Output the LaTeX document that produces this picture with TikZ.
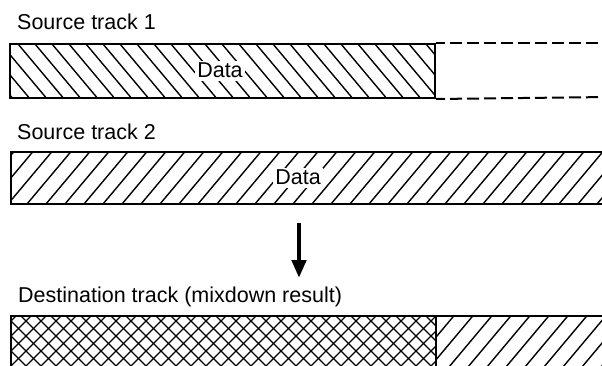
\documentclass[tikz,border=0pt]{standalone}
\usepackage{fontspec}
\setmainfont{Liberation Sans}
\usetikzlibrary{arrows.meta}
\begin{document}
\begin{tikzpicture}[x=1pt,y=-1pt,
  lbl/.style={font=\fontsize{21.5}{24}\selectfont, inner sep=0pt, anchor=base west},
  datalbl/.style={font=\fontsize{21.5}{24}\selectfont, fill=white, inner sep=2.5pt, anchor=base},
  hl/.style={line width=1.4pt},
  track/.style={draw, line width=2pt, anchor=north west, inner sep=0pt},
  hatchback/.style={path picture={\foreach \k in {0,...,40}{\draw[hl] ([xshift=\k*17pt-60pt]path picture bounding box.north west) -- ++(60pt,-71.5pt);}}},
  hatchfwd/.style={path picture={\foreach \k in {0,...,40}{\draw[hl] ([xshift=\k*19pt-60pt]path picture bounding box.south west) -- ++(60pt,71.5pt);}}},
  hatchcross/.style={path picture={\foreach \k in {0,...,50}{\draw[hl] ([xshift=\k*15pt-80pt]path picture bounding box.south west) -- ++(80pt,80pt); \draw[hl] ([xshift=\k*15pt-80pt]path picture bounding box.north west) -- ++(80pt,-80pt);}}},
  dashline/.style={line width=2pt, dash pattern=on 12pt off 5pt, dash phase=3pt},
  bigarrow/.style={line width=4.5pt, -{Triangle[width=14pt,length=18pt]}}
]
\useasboundingbox (0,0) rectangle (602,366);
\clip (0,0) rectangle (602,366);

% Source track 1
\node[lbl] (l1) at (17,30) {Source track 1};
\node[track, hatchback, minimum width=425pt, minimum height=54pt] (t1) at (9,43) {};
\node[datalbl] (d1) at (220,78) {Data};
\coordinate (e1t) at (610,43);
\coordinate (e1b) at (610,97);
\draw[dashline] (t1.north east) -- (e1t);
\draw[dashline] (t1.south east) -- (e1b);

% Source track 2
\node[lbl] (l2) at (17,140) {Source track 2};
\node[track, hatchfwd, minimum width=620pt, minimum height=52pt] (t2) at (10,151) {};
\node[datalbl] (d2) at (298,185) {Data};

% Arrow
\coordinate (a1) at (299,223);
\coordinate (a2) at (299,278);
\draw[bigarrow] (a1) -- (a2);

% Destination track
\node[lbl] (l3) at (18,302) {Destination track (mixdown result)};
\node[track, hatchcross, minimum width=425pt, minimum height=70pt] (dl) at (10,315) {};
\node[track, hatchfwd, minimum width=200pt, minimum height=70pt] (dr) at (435,315) {};
\end{tikzpicture}
\end{document}
